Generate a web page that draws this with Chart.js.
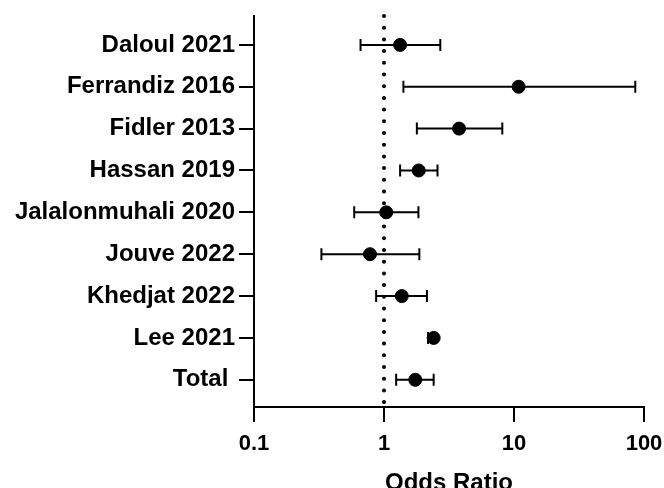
<!DOCTYPE html>
<html>
<head>
<meta charset="utf-8">
<script src="https://cdn.jsdelivr.net/npm/chart.js@4"></script>
<style>
  body { margin: 0; background: #fff; }
  #forest { display: block; }
</style>
</head>
<body>
<canvas id="forest" width="664" height="488"></canvas>
<script>
const studies = ["Daloul 2021", "Ferrandiz 2016", "Fidler 2013", "Hassan 2019", "Jalalonmuhali 2020", "Jouve 2022", "Khedjat 2022", "Lee 2021", "Total "];
const oddsRatio = [1.33, 10.85, 3.78, 1.85, 1.04, 0.78, 1.37, 2.41, 1.74];
const lowerCI = [0.66, 1.41, 1.79, 1.33, 0.59, 0.33, 0.87, 2.18, 1.24];
const upperCI = [2.71, 85.7, 8.13, 2.58, 1.84, 1.87, 2.14, 2.5, 2.41];
const xTicks = [0.1, 1, 10, 100];

// whiskers + dotted reference line at OR = 1
const forestPlugin = {
    id: "forest",
    beforeDatasetsDraw(chart) {
        const { ctx, scales: { x, y } } = chart;
        ctx.save();

        // null line
        const x1 = x.getPixelForValue(1);
        ctx.strokeStyle = "#000";
        ctx.lineWidth = 4;
        ctx.lineCap = "round";
        ctx.setLineDash([0, 11.7]);
        ctx.beginPath();
        ctx.moveTo(x1, y.top);
        ctx.lineTo(x1, y.bottom);
        ctx.stroke();

        // error bars
        ctx.setLineDash([]);
        ctx.lineCap = "butt";
        ctx.lineWidth = 2;
        studies.forEach((s, i) => {
            const py = y.getPixelForValue(i);
            const lo = x.getPixelForValue(lowerCI[i]);
            const hi = x.getPixelForValue(upperCI[i]);
            ctx.beginPath();
            ctx.moveTo(lo, py);
            ctx.lineTo(hi, py);
            ctx.moveTo(lo, py - 6);
            ctx.lineTo(lo, py + 6);
            ctx.moveTo(hi, py - 6);
            ctx.lineTo(hi, py + 6);
            ctx.stroke();
        });
        ctx.restore();
    }
};

const ctx = document.getElementById("forest").getContext("2d");
new Chart(ctx, {
    type: "scatter",
    data: {
        datasets: [{
            data: oddsRatio.map((v, i) => ({ x: v, y: i })),
            backgroundColor: "#000",
            borderColor: "#000",
            pointRadius: 6.5,
            pointHoverRadius: 6.5
        }]
    },
    options: {
        responsive: false,
        animation: false,
        layout: { padding: { top: 16, right: 20, left: 0, bottom: 0 } },
        plugins: { legend: { display: false }, tooltip: { enabled: false } },
        scales: {
            x: {
                type: "logarithmic",
                min: 0.1,
                max: 100,
                afterBuildTicks: (scale) => { scale.ticks = xTicks.map(v => ({ value: v })); },
                afterFit: (scale) => {
                    scale.height = 81;
                    scale.paddingLeft = 0;
                    scale.paddingRight = 0;
                },
                border: { display: true, color: "#000", width: 2 },
                grid: { drawOnChartArea: false, drawTicks: true, tickLength: 15, color: "#000", lineWidth: 2 },
                ticks: {
                    color: "#000",
                    padding: 9,
                    font: { family: "Liberation Sans", size: 22, weight: "bold" },
                    callback: (v) => String(v)
                },
                title: {
                    display: true,
                    text: "Odds Ratio",
                    color: "#000",
                    padding: { top: 0, bottom: -10 },
                    font: { family: "Liberation Sans", size: 24, weight: "bold" }
                }
            },
            y: {
                type: "linear",
                reverse: true,
                min: -0.69,
                max: 8.65,
                afterBuildTicks: (scale) => { scale.ticks = studies.map((s, i) => ({ value: i })); },
                afterFit: (scale) => {
                    scale.width = 254;
                    scale.paddingTop = 0;
                    scale.paddingBottom = 0;
                },
                border: { display: true, color: "#000", width: 2 },
                grid: { drawOnChartArea: false, drawTicks: true, tickLength: 15, color: "#000", lineWidth: 2 },
                ticks: {
                    color: "#000",
                    padding: 4,
                    autoSkip: false,
                    font: { family: "Liberation Sans", size: 24, weight: "bold" },
                    callback: (v) => studies[v]
                }
            }
        }
    },
    plugins: [forestPlugin]
});
</script>
</body>
</html>
